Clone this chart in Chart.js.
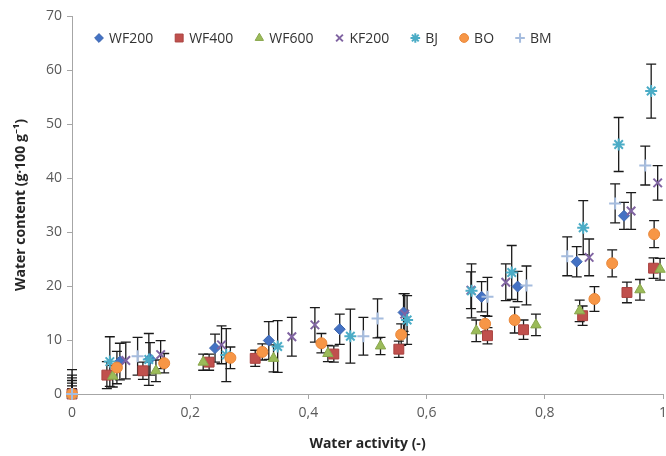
<!DOCTYPE html>
<html>
<head>
<meta charset="utf-8">
<script src="https://cdn.jsdelivr.net/npm/chart.js@4.4.1/dist/chart.umd.min.js"></script>
<style>
    html, body { margin: 0; padding: 0; background: #ffffff; }
    #wrap { width: 666px; height: 456px; }
</style>
</head>
<body>
<div id="wrap"><canvas id="chart" width="666" height="456"></canvas></div>
<script>
// ---- data (water activity, water content, error) ----
const wf200X = [0, 0.081, 0.132, 0.242, 0.333, 0.453, 0.561, 0.693, 0.754, 0.854, 0.934];
const wf200Y = [0, 6.0, 6.5, 8.5, 9.9, 12.0, 15.1, 18.0, 19.9, 24.5, 33.0];
const wf200Err = [2.5, 3.4, 3.0, 2.6, 3.5, 2.8, 3.5, 2.8, 2.8, 2.8, 2.5];

const wf400X = [0, 0.059, 0.120, 0.232, 0.310, 0.443, 0.553, 0.703, 0.764, 0.864, 0.939, 0.984];
const wf400Y = [0, 3.5, 4.3, 5.9, 6.6, 7.4, 8.3, 10.8, 11.9, 14.5, 18.8, 23.3];
const wf400Err = [1, 2.5, 1.6, 1.5, 1.5, 1.5, 1.5, 1.5, 1.8, 1.8, 1.9, 1.9];

const wf600X = [0, 0.069, 0.142, 0.222, 0.341, 0.433, 0.522, 0.684, 0.785, 0.859, 0.961, 0.995];
const wf600Y = [0, 3.3, 4.3, 5.9, 6.6, 7.5, 8.9, 11.7, 12.8, 15.4, 19.3, 23.1];
const wf600Err = [1.5, 2, 2, 1.5, 2.5, 1.5, 1.6, 2, 2, 2, 1.9, 2];

const kf200X = [0, 0.091, 0.150, 0.253, 0.372, 0.411, 0.563, 0.675, 0.734, 0.875, 0.946, 0.991];
const kf200Y = [0, 6.2, 7.3, 9.1, 10.6, 12.8, 14.8, 19.2, 20.7, 25.3, 33.9, 39.1];
const kf200Err = [3, 3.4, 2.6, 3.5, 3.6, 3.2, 3.8, 3.4, 3.4, 3.4, 3.4, 3.2];

const bjX = [0, 0.064, 0.130, 0.261, 0.348, 0.471, 0.567, 0.676, 0.744, 0.865, 0.925, 0.980];
const bjY = [0, 6.0, 6.4, 7.2, 8.8, 10.7, 13.7, 19.1, 22.5, 30.8, 46.2, 56.1];
const bjErr = [4.5, 4.6, 4.8, 4.9, 4.8, 5, 4.5, 5, 5, 5, 5, 5];

const boX = [0, 0.076, 0.156, 0.268, 0.322, 0.422, 0.557, 0.699, 0.749, 0.884, 0.914, 0.985];
const boY = [0, 4.9, 5.7, 6.7, 7.8, 9.4, 11.0, 13.0, 13.7, 17.6, 24.2, 29.6];
const boErr = [2, 3, 1.8, 2, 1.5, 1.8, 2, 1.5, 2.4, 2.3, 2.5, 2.5];

const bmX = [0, 0.111, 0.493, 0.517, 0.703, 0.769, 0.838, 0.919, 0.970];
const bmY = [0, 7.0, 10.7, 14.0, 18.0, 20.1, 25.5, 35.3, 42.3];
const bmErr = [3.5, 3.5, 3.5, 3.6, 3.6, 3.6, 3.6, 3.6, 3.6];

const FONT = "'Open Sans', 'Noto Sans', sans-serif";

function points(xs, ys) {
    return xs.map((x, i) => ({ x, y: ys[i] }));
}

function series(label, xs, ys, errs, style) {
    return {
        label,
        data: points(xs, ys),
        errors: errs,
        showLine: false,
        clip: false,
        ...style,
    };
}

const datasets = [
    series('WF200', wf200X, wf200Y, wf200Err, { pointStyle: 'rectRot', pointRadius: 5.5, backgroundColor: '#4472C4', borderColor: '#3b64ad', borderWidth: 1 }),
    series('WF400', wf400X, wf400Y, wf400Err, { pointStyle: 'rect', pointRadius: 7, backgroundColor: '#C0504D', borderColor: '#a9423f', borderWidth: 1 }),
    series('WF600', wf600X, wf600Y, wf600Err, { pointStyle: 'triangle', pointRadius: 6, backgroundColor: '#9BBB59', borderColor: '#88a64b', borderWidth: 1 }),
    series('KF200', kf200X, kf200Y, kf200Err, { pointStyle: 'crossRot', pointRadius: 6, backgroundColor: '#8064A2', borderColor: '#8064A2', borderWidth: 2 }),
    series('BJ', bjX, bjY, bjErr, { pointStyle: 'star', pointRadius: 6, backgroundColor: '#4BACC6', borderColor: '#4BACC6', borderWidth: 2 }),
    series('BO', boX, boY, boErr, { pointStyle: 'circle', pointRadius: 5.5, backgroundColor: '#F79646', borderColor: '#e8873a', borderWidth: 1 }),
    series('BM', bmX, bmY, bmErr, { pointStyle: 'cross', pointRadius: 6, backgroundColor: '#A5BCDE', borderColor: '#A5BCDE', borderWidth: 2 }),
];
// later series are painted over earlier ones, as in the reference
datasets.forEach((ds, i) => { ds.order = datasets.length - i; });

// vertical error bars with caps, drawn through the scales
const errorBars = {
    id: 'errorBars',
    beforeDatasetsDraw(chart) {
        const { ctx, chartArea } = chart;
        const xs = chart.scales.x, ys = chart.scales.y;
        ctx.save();
        ctx.beginPath();
        ctx.rect(chartArea.left - 6, chartArea.top, chartArea.right - chartArea.left + 12, chartArea.bottom - chartArea.top + 1);
        ctx.clip();
        ctx.strokeStyle = '#1a1a1a';
        ctx.lineWidth = 1.3;
        chart.data.datasets.forEach(ds => {
            ds.data.forEach((p, i) => {
                const e = ds.errors[i];
                const px = xs.getPixelForValue(p.x);
                const top = ys.getPixelForValue(p.y + e);
                const bot = ys.getPixelForValue(Math.max(p.y - e, 0));
                ctx.beginPath();
                ctx.moveTo(px, top); ctx.lineTo(px, bot);
                ctx.moveTo(px - 5, top); ctx.lineTo(px + 5, top);
                ctx.moveTo(px - 5, bot); ctx.lineTo(px + 5, bot);
                ctx.stroke();
            });
        });
        ctx.restore();
    },
};

// legend drawn inside the plot area, on one row
const innerLegend = {
    id: 'innerLegend',
    afterDraw(chart) {
        const ctx = chart.ctx;
        const y = 38;
        let x = 99;
        ctx.save();
        ctx.font = '14px ' + FONT;
        ctx.textBaseline = 'middle';
        chart.data.datasets.forEach(ds => {
            ctx.fillStyle = ds.backgroundColor;
            ctx.strokeStyle = ds.borderColor;
            ctx.lineWidth = ds.borderWidth;
            Chart.helpers.drawPoint(ctx, {
                pointStyle: ds.pointStyle,
                radius: ds.pointRadius * 0.8,
                borderWidth: ds.borderWidth,
                rotation: 0,
            }, x, y);
            ctx.fillStyle = '#333333';
            ctx.fillText(ds.label, x + 10, y + 1);
            x += 10 + ctx.measureText(ds.label).width + 26;
        });
        ctx.restore();
    },
};

function noPad(s) {
    s.paddingTop = 0; s.paddingBottom = 0; s.paddingLeft = 0; s.paddingRight = 0;
}

new Chart(document.getElementById('chart').getContext('2d'), {
    type: 'scatter',
    data: { datasets },
    plugins: [errorBars, innerLegend],
    options: {
        responsive: false,
        animation: false,
        layout: { autoPadding: false, padding: { top: 16, right: 3, left: 0, bottom: 0 } },
        plugins: {
            legend: { display: false },
            tooltip: { enabled: false },
        },
        scales: {
            x: {
                type: 'linear',
                min: 0,
                max: 1,
                afterFit(s) { s.height = 62; noPad(s); },
                ticks: {
                    stepSize: 0.2,
                    padding: 6,
                    color: '#595959',
                    font: { family: FONT, size: 14 },
                    maxRotation: 0,
                    callback: v => (v === 0 || v === 1) ? String(v) : v.toFixed(1).replace('.', ','),
                },
                grid: { drawOnChartArea: false, drawTicks: true, tickLength: 5, color: '#a6a6a6' },
                border: { color: '#a6a6a6', width: 1 },
                title: {
                    display: true,
                    text: 'Water activity (-)',
                    color: '#262626',
                    font: { family: FONT, size: 14, weight: 'bold', lineHeight: 1.2 },
                    padding: { top: 0, bottom: 4 },
                },
            },
            y: {
                min: 0,
                max: 70,
                afterFit(s) { s.width = 72; noPad(s); },
                ticks: {
                    stepSize: 10,
                    padding: 5,
                    color: '#595959',
                    font: { family: FONT, size: 14 },
                },
                grid: { drawOnChartArea: false, drawTicks: true, tickLength: 5, color: '#a6a6a6' },
                border: { color: '#a6a6a6', width: 1 },
                title: {
                    display: true,
                    text: 'Water content (g·100 g⁻¹)',
                    color: '#262626',
                    font: { family: FONT, size: 14, weight: 'bold', lineHeight: 1.2 },
                    padding: { top: 13, bottom: 0 },
                },
            },
        },
    },
});
</script>
</body>
</html>
